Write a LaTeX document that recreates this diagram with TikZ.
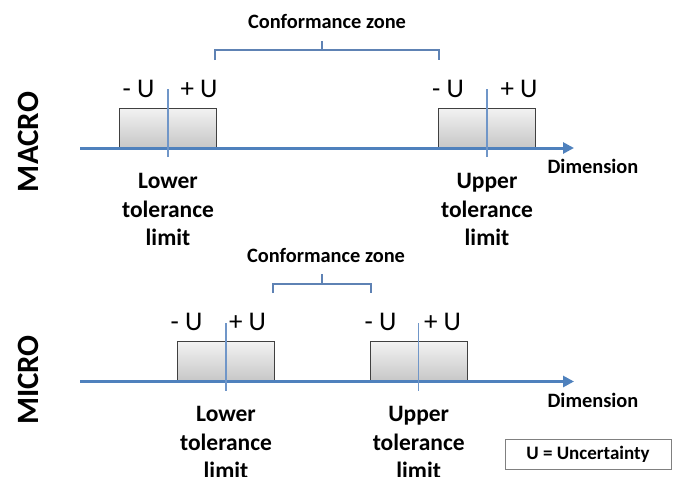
\documentclass[tikz,border=0pt]{standalone}
\usepackage{fontspec}
\setmainfont{Carlito}
\usetikzlibrary{arrows.meta}
\definecolor{axisblue}{HTML}{4F81BD}
\definecolor{limblue}{HTML}{7096C8}
\definecolor{braceblue}{HTML}{5E82B4}
\tikzset{
  dimaxis/.style={draw=axisblue, line width=3pt, -{Triangle[length=11pt,width=11pt]}},
  ubox/.style={draw=black!75, line width=0.9pt, top color=black!5, bottom color=black!22,
    minimum width=97pt, minimum height=39.5pt, inner sep=0pt, anchor=south},
  limline/.style={draw=limblue, line width=1.1pt},
  zonebrace/.style={draw=braceblue, line width=1.2pt},
  pmtext/.style={font=\fontsize{27}{27}\selectfont, anchor=base, inner sep=0pt},
  limtext/.style={font=\bfseries\fontsize{23.5}{28.5}\selectfont, align=center, anchor=north, inner sep=0pt},
  smalltext/.style={font=\bfseries\fontsize{20.4}{20.4}\selectfont, anchor=base, inner sep=0pt},
  scaletext/.style={font=\bfseries\fontsize{31}{31}\selectfont, rotate=90, inner sep=0pt},
}
\begin{document}
\begin{tikzpicture}[x=1pt,y=-1pt]
        \useasboundingbox (0,0) rectangle (673,477);
        % MACRO
        \node[scaletext] (macro) at (28,142) {MACRO};
        \coordinate (maxis0) at (80,148);
        \coordinate (maxis1) at (574,148);
        \coordinate (mlow) at (168,148);
        \coordinate (mup) at (487,148);
        \node[ubox] (mlowbox) at (mlow) {};
        \node[ubox] (mupbox) at (mup) {};
        \draw[dimaxis] (maxis0) -- (maxis1);
        \draw[limline] (mlow) ++(0,9) -- ++(0,-68);
        \draw[limline] (mup) ++(0,9) -- ++(0,-68);
        \draw[zonebrace] (215,60) -- (215,50) -- (439,50) -- (439,60);
        \draw[zonebrace] (322,50) -- (322,41);
        \node[smalltext] (mzone) at (327,28) {Conformance zone};
        \node[pmtext] (mlowm) at (138.5,97) {- U};
        \node[pmtext] (mlowp) at (199,97) {+ U};
        \node[pmtext] (mupm) at (448,97) {- U};
        \node[pmtext] (mupp) at (519,97) {+ U};
        \node[limtext] (mlowlbl) at (168,173.5) {Lower\\tolerance\\limit};
        \node[limtext] (muplbl) at (487,173.5) {Upper\\tolerance\\limit};
        \node[smalltext] (mdim) at (593,173) {Dimension};
        % MICRO
        \node[scaletext] (micro) at (28,380) {MICRO};
        \coordinate (uaxis0) at (80,381.5);
        \coordinate (uaxis1) at (574,381.5);
        \coordinate (ulow) at (226,381.5);
        \coordinate (uup) at (418.7,381.5);
        \node[ubox] (ulowbox) at (ulow) {};
        \node[ubox] (uupbox) at (uup) {};
        \draw[dimaxis] (uaxis0) -- (uaxis1);
        \draw[limline] (ulow) ++(0,9) -- ++(0,-68);
        \draw[limline] (uup) ++(0,9) -- ++(0,-68);
        \draw[zonebrace] (273,293) -- (273,284) -- (371,284) -- (371,293);
        \draw[zonebrace] (322,284) -- (322,274);
        \node[smalltext] (uzone) at (326,262) {Conformance zone};
        \node[pmtext] (ulowm) at (186.5,330) {- U};
        \node[pmtext] (ulowp) at (247.5,330) {+ U};
        \node[pmtext] (uupm) at (380.5,330) {- U};
        \node[pmtext] (uupp) at (442.5,330) {+ U};
        \node[limtext] (ulowlbl) at (226,406.5) {Lower\\tolerance\\limit};
        \node[limtext] (uuplbl) at (418.7,406.5) {Upper\\tolerance\\limit};
        \node[smalltext] (udim) at (593,407) {Dimension};
        % legend
        \node[draw=black!50, line width=1pt, minimum width=166pt, minimum height=30pt, inner sep=0pt,
          font=\bfseries\fontsize{19}{19}\selectfont] (legend) at (588,454) {U = Uncertainty};
      \end{tikzpicture}
\end{document}
